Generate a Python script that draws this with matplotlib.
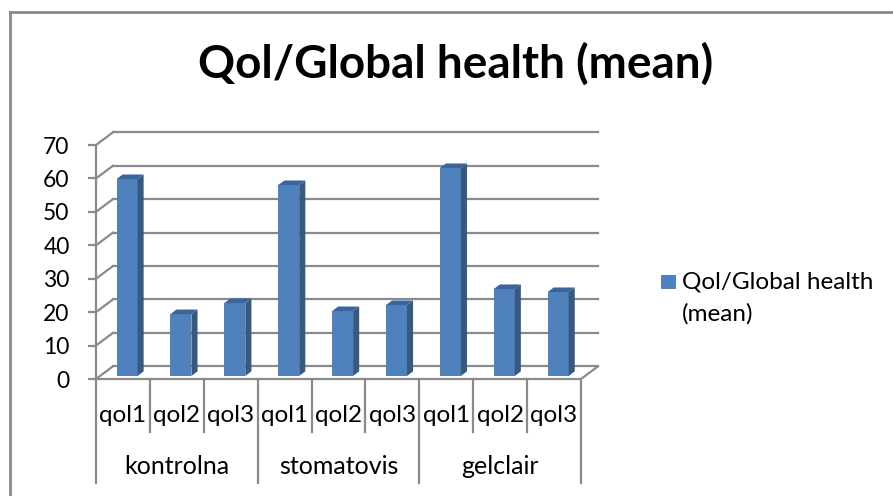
import matplotlib.pyplot as plt
from matplotlib.patches import Polygon, Rectangle
from matplotlib.lines import Line2D

plt.rcParams['font.family'] = ['Lato', 'DejaVu Sans']

groups = ['kontrolna', 'stomatovis', 'gelclair']
items = ['qol1', 'qol2', 'qol3']
values = [58.9, 18.5, 21.8, 57.1, 19.4, 21.2, 62.2, 26.0, 25.1]
yticks = [0, 10, 20, 30, 40, 50, 60, 70]
title = 'Qol/Global health (mean)'
series = ['Qol/Global health', '(mean)']

W, H = 893, 496
fig = plt.figure(figsize=(W / 100, H / 100), dpi=100)
ax = fig.add_axes([96 / W, (H - 379) / H, 485 / W, 234 / H])
n = len(values)
ax.set_xlim(0, n)
ax.set_ylim(0, 70)

grid = '#8a8a8a'
ddx, ddy = 0.315, 3.8   # depth of the floor, in data units
f, bd, w = 0.24, 0.36, 0.39  # bar front depth, bar depth, bar width

# back wall and left side wall
for v in yticks:
    ax.plot([ddx, n + ddx], [v + ddy, v + ddy], color=grid, lw=1.6, clip_on=False, zorder=1)
    ax.plot([0, ddx], [v, v + ddy], color=grid, lw=1.6, clip_on=False, zorder=1)
# floor
ax.plot([0, n, n + ddx], [0, 0, ddy], color=grid, lw=1.6, clip_on=False, zorder=1)

# bars
xs = [i + 0.5 + f * ddx for i in range(n)]
ax.bar(xs, values, width=w, bottom=f * ddy, color='#4f81bd', edgecolor='none', zorder=3, clip_on=False)
for x, h in zip(xs, values):
    x0 = x - w / 2
    x1 = x + w / 2
    y0 = f * ddy
    ox, oy = bd * ddx, bd * ddy
    side = Polygon([(x1, y0), (x1 + ox, y0 + oy), (x1 + ox, y0 + h + oy), (x1, y0 + h)],
                   closed=True, facecolor='#36597f', edgecolor='none', zorder=3, clip_on=False)
    top = Polygon([(x0, y0 + h), (x1, y0 + h), (x1 + ox, y0 + h + oy), (x0 + ox, y0 + h + oy)],
                  closed=True, facecolor='#3d6495', edgecolor='none', zorder=3, clip_on=False)
    ax.add_patch(side)
    ax.add_patch(top)

# y axis at the front
for s in ['top', 'right', 'bottom']:
    ax.spines[s].set_visible(False)
ax.spines['left'].set_color(grid)
ax.spines['left'].set_linewidth(1.6)
ax.set_yticks(yticks)
ax.set_xticks([])
ax.tick_params(axis='y', length=6, width=1.6, color=grid, pad=13, labelsize=16.5)

# category axis below the floor
for k in range(n + 1):
    low = -31.1 if k % len(items) == 0 else -15.9
    ax.plot([k, k], [0, low], color=grid, lw=1.6, clip_on=False)
for i in range(n):
    ax.text(i + 0.5, -10.8, items[i % len(items)], ha='center', va='center', fontsize=17.5, clip_on=False)
for g, name in enumerate(groups):
    ax.text(g * len(items) + len(items) / 2, -26.3, name, ha='center', va='center', fontsize=18)

fig.text(456 / W, 1 - 78 / H, title, ha='center', va='baseline', fontsize=33, fontweight='bold')

# legend
fig.add_artist(Rectangle((661 / W, 1 - 289 / H), 15 / W, 14 / H, transform=fig.transFigure,
                         facecolor='#4f81bd', edgecolor='none'))
fig.text(682 / W, 1 - 288 / H, series[0], ha='left', va='baseline', fontsize=17.5)
fig.text(682 / W, 1 - 321 / H, series[1], ha='left', va='baseline', fontsize=17.5)

# chart border
fig.add_artist(Line2D([10 / W, 10 / W], [0, 1 - 12 / H], transform=fig.transFigure, color=grid, lw=2))
fig.add_artist(Line2D([10 / W, 1], [1 - 12 / H, 1 - 12 / H], transform=fig.transFigure, color=grid, lw=2))

fig.savefig('out.png', dpi=100)
